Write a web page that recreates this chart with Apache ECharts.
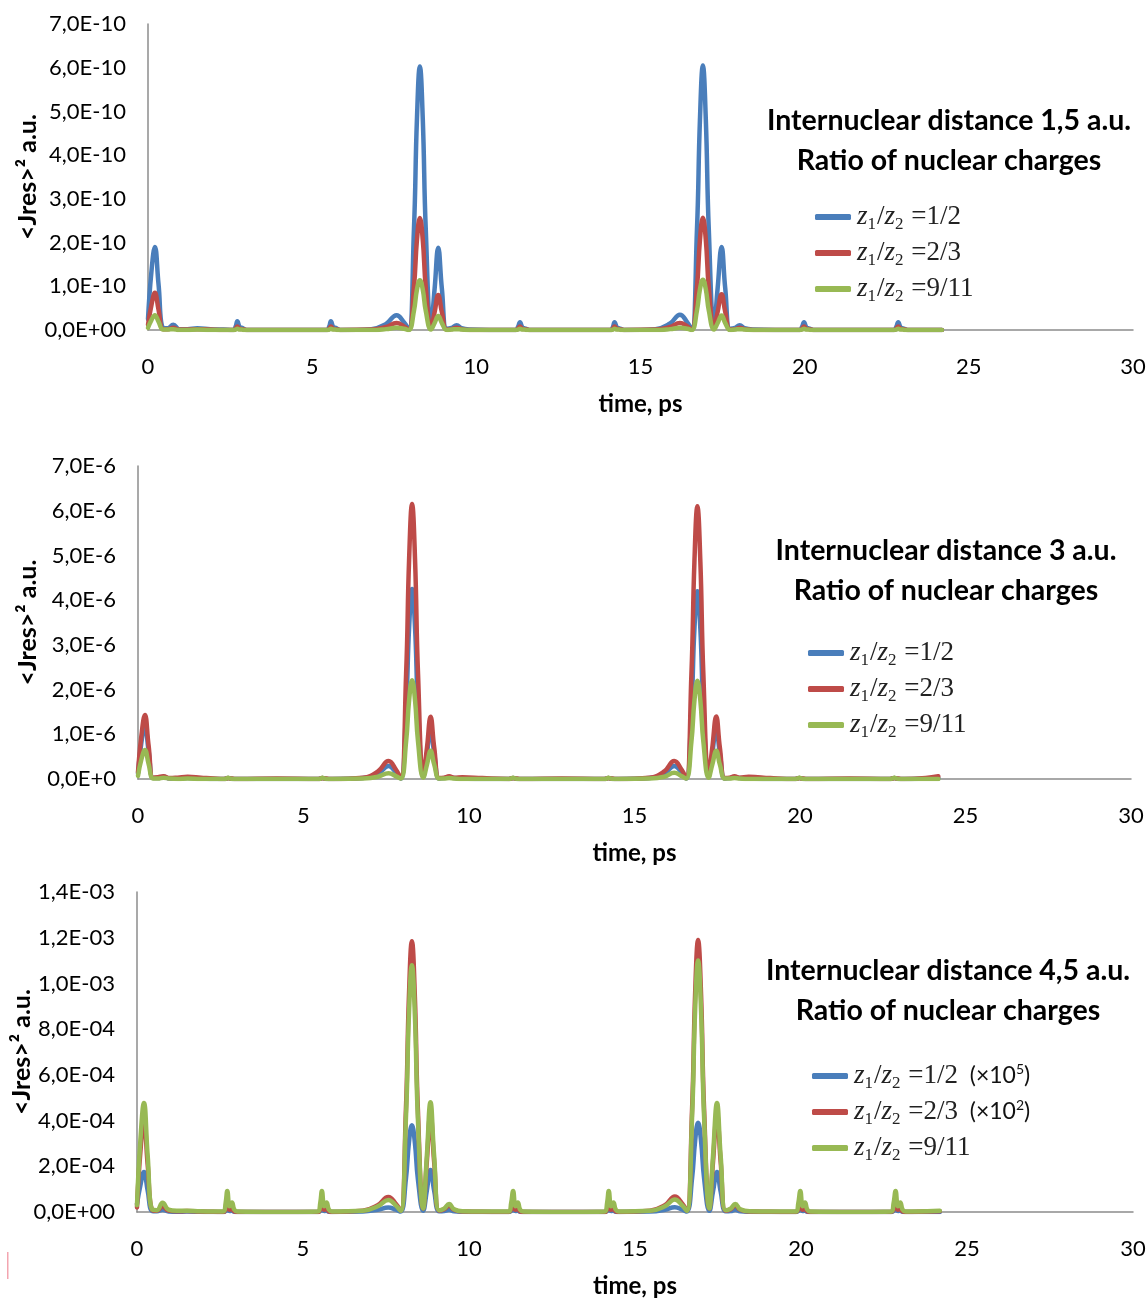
<!DOCTYPE html>
<html>
<head>
<meta charset="utf-8">
<title>Resonance current vs time</title>
<script src="https://cdn.jsdelivr.net/npm/echarts/dist/echarts.min.js"></script>
<style>
  html, body { margin: 0; padding: 0; background: #ffffff; }
  #chart { width: 1148px; height: 1301px; }
</style>
</head>
<body>
<div id="chart"></div>
<script>
// Time grid shared by all curves, ps
const time = [
  0, 0.1, 0.21, 0.32, 0.46, 0.6, 0.77, 0.95, 1.2, 1.5, 1.9, 2.3,
  2.6, 2.67, 2.72, 2.79, 2.86, 2.93, 3.02,
  4.2,
  5.45, 5.52, 5.57, 5.64, 5.71, 5.78, 5.87,
  6.8, 7.25, 7.57, 7.8, 7.94,
  8.1, 8.19, 8.28, 8.37, 8.46, 8.62,
  8.73, 8.84, 8.95, 9.1,
  9.25, 9.4, 9.55, 9.8, 10.4,
  11.2, 11.27, 11.33, 11.4, 11.47, 11.54, 11.63,
  12.8,
  14.09, 14.16, 14.21, 14.28, 14.35, 14.42, 14.51,
  15.45, 15.9, 16.2, 16.43, 16.56,
  16.72, 16.81, 16.9, 16.99, 17.08, 17.24,
  17.35, 17.47, 17.58, 17.73,
  17.88, 18.02, 18.17, 18.45, 19.1,
  19.85, 19.92, 19.98, 20.05, 20.12, 20.19, 20.28,
  21.5,
  22.72, 22.79, 22.85, 22.92, 22.99, 23.06, 23.15,
  23.8, 24.18
];

// Distance 1,5 a.u., values in units of 1E-10
const d15_half = [
  0.25, 1.3, 1.9, 1.05, 0.05, 0.04, 0.12, 0.02, 0.02, 0.04, 0.02, 0.01,
  0, 0.08, 0.2, 0.07, 0.05, 0.02, 0,
  0,
  0, 0.08, 0.2, 0.07, 0.05, 0.02, 0,
  0.02, 0.14, 0.34, 0.17, 0.02,
  2.3, 4.8, 6.03, 4.8, 2.3, 0.08,
  0.95, 1.88, 0.95, 0.03,
  0.05, 0.11, 0.04, 0.01, 0,
  0, 0.07, 0.18, 0.06, 0.04, 0.02, 0,
  0,
  0, 0.07, 0.18, 0.06, 0.04, 0.02, 0,
  0.02, 0.15, 0.35, 0.17, 0.02,
  2.3, 4.8, 6.05, 4.8, 2.3, 0.08,
  0.96, 1.9, 0.96, 0.03,
  0.05, 0.11, 0.04, 0.01, 0,
  0, 0.07, 0.18, 0.06, 0.04, 0.02, 0,
  0,
  0, 0.07, 0.18, 0.06, 0.04, 0.02, 0,
  0, 0
];
const d15_twoThirds = [
  0.12, 0.55, 0.85, 0.47, 0.02, 0.02, 0.05, 0.01, 0.01, 0.02, 0.01, 0,
  0, 0.03, 0.08, 0.03, 0.02, 0.01, 0,
  0,
  0, 0.03, 0.08, 0.03, 0.02, 0.01, 0,
  0.01, 0.07, 0.16, 0.08, 0.01,
  0.98, 2.05, 2.56, 2.05, 0.98, 0.03,
  0.41, 0.8, 0.41, 0.01,
  0.02, 0.05, 0.02, 0, 0,
  0, 0.03, 0.08, 0.03, 0.02, 0.01, 0,
  0,
  0, 0.03, 0.08, 0.03, 0.02, 0.01, 0,
  0.01, 0.07, 0.16, 0.08, 0.01,
  0.98, 2.06, 2.57, 2.06, 0.98, 0.03,
  0.42, 0.82, 0.42, 0.01,
  0.02, 0.05, 0.02, 0, 0,
  0, 0.03, 0.08, 0.03, 0.02, 0.01, 0,
  0,
  0, 0.03, 0.08, 0.03, 0.02, 0.01, 0,
  0, 0
];
const d15_nineElevenths = [
  0.05, 0.22, 0.34, 0.19, 0.01, 0.01, 0.02, 0, 0, 0.01, 0, 0,
  0, 0.01, 0.03, 0.01, 0.01, 0, 0,
  0,
  0, 0.01, 0.03, 0.01, 0.01, 0, 0,
  0, 0.02, 0.05, 0.03, 0,
  0.44, 0.92, 1.14, 0.92, 0.44, 0.01,
  0.16, 0.32, 0.16, 0,
  0.01, 0.02, 0.01, 0, 0,
  0, 0.01, 0.03, 0.01, 0.01, 0, 0,
  0,
  0, 0.01, 0.03, 0.01, 0.01, 0, 0,
  0, 0.02, 0.05, 0.03, 0,
  0.45, 0.93, 1.15, 0.93, 0.45, 0.01,
  0.16, 0.33, 0.16, 0,
  0.01, 0.02, 0.01, 0, 0,
  0, 0.01, 0.03, 0.01, 0.01, 0, 0,
  0,
  0, 0.01, 0.03, 0.01, 0.01, 0, 0,
  0, 0
];

// Distance 3 a.u., values in units of 1E-6
const d3_half = [
  0.12, 0.8, 1.2, 0.63, 0.02, 0.02, 0.05, 0.01, 0.01, 0.02, 0.01, 0,
  0, 0.01, 0.02, 0.01, 0, 0, 0,
  0,
  0, 0.01, 0.02, 0.01, 0, 0, 0,
  0.02, 0.12, 0.29, 0.14, 0.01,
  1.62, 3.38, 4.25, 3.38, 1.62, 0.05,
  0.57, 1.14, 0.57, 0.01,
  0.02, 0.04, 0.02, 0.01, 0,
  0, 0.01, 0.02, 0.01, 0, 0, 0,
  0,
  0, 0.01, 0.02, 0.01, 0, 0, 0,
  0.02, 0.12, 0.29, 0.14, 0.01,
  1.6, 3.35, 4.2, 3.35, 1.6, 0.05,
  0.57, 1.14, 0.57, 0.01,
  0.02, 0.04, 0.02, 0.01, 0,
  0, 0.01, 0.02, 0.01, 0, 0, 0,
  0,
  0, 0.01, 0.02, 0.01, 0, 0, 0,
  0.01, 0.02
];
const d3_twoThirds = [
  0.15, 0.95, 1.43, 0.75, 0.03, 0.04, 0.06, 0.02, 0.03, 0.05, 0.03, 0.01,
  0, 0.01, 0.02, 0.01, 0.01, 0, 0,
  0.01,
  0, 0.01, 0.02, 0.01, 0.01, 0, 0,
  0.03, 0.17, 0.4, 0.2, 0.02,
  2.35, 4.9, 6.15, 4.9, 2.35, 0.08,
  0.7, 1.39, 0.7, 0.02,
  0.03, 0.06, 0.03, 0.04, 0.02,
  0, 0.01, 0.02, 0.01, 0.01, 0, 0,
  0.01,
  0, 0.01, 0.02, 0.01, 0.01, 0, 0,
  0.03, 0.17, 0.4, 0.2, 0.02,
  2.35, 4.85, 6.1, 4.85, 2.35, 0.08,
  0.7, 1.4, 0.7, 0.02,
  0.03, 0.06, 0.03, 0.05, 0.02,
  0, 0.01, 0.02, 0.01, 0.01, 0, 0,
  0.01,
  0, 0.01, 0.02, 0.01, 0.01, 0, 0,
  0.02, 0.06
];
const d3_nineElevenths = [
  0.07, 0.43, 0.65, 0.34, 0.01, 0.01, 0.03, 0.01, 0, 0.01, 0, 0,
  0, 0.01, 0.03, 0.01, 0, 0, 0,
  0,
  0, 0.01, 0.03, 0.01, 0, 0, 0,
  0.01, 0.05, 0.13, 0.06, 0.01,
  0.84, 1.76, 2.21, 1.76, 0.84, 0.03,
  0.32, 0.63, 0.32, 0.01,
  0.01, 0.02, 0.01, 0, 0,
  0, 0.01, 0.03, 0.01, 0, 0, 0,
  0,
  0, 0.01, 0.03, 0.01, 0, 0, 0,
  0.01, 0.05, 0.14, 0.06, 0.01,
  0.84, 1.75, 2.2, 1.75, 0.84, 0.03,
  0.32, 0.63, 0.32, 0.01,
  0.01, 0.02, 0.01, 0, 0,
  0, 0.01, 0.03, 0.01, 0, 0, 0,
  0,
  0, 0.01, 0.03, 0.01, 0, 0, 0,
  0, 0
];

// Distance 4,5 a.u., values in units of 1E-4 (first two curves pre-scaled)
const d45_half = [
  0.35, 1.15, 1.75, 0.95, 0.04, 0.03, 0.1, 0.02, 0.01, 0.02, 0.01, 0,
  0, 0.05, 0.14, 0.04, 0.06, 0.01, 0,
  0,
  0, 0.05, 0.14, 0.04, 0.06, 0.01, 0,
  0.02, 0.1, 0.2, 0.1, 0.02,
  1.45, 3.03, 3.8, 3.03, 1.45, 0.05,
  0.94, 1.84, 0.94, 0.03,
  0.04, 0.1, 0.03, 0.01, 0,
  0, 0.05, 0.14, 0.04, 0.06, 0.01, 0,
  0,
  0, 0.05, 0.14, 0.04, 0.06, 0.01, 0,
  0.02, 0.1, 0.21, 0.1, 0.02,
  1.49, 3.1, 3.9, 3.1, 1.49, 0.05,
  0.9, 1.75, 0.9, 0.03,
  0.04, 0.1, 0.03, 0.01, 0,
  0, 0.05, 0.14, 0.04, 0.06, 0.01, 0,
  0,
  0, 0.05, 0.14, 0.04, 0.06, 0.01, 0,
  0, 0
];
const d45_twoThirds = [
  0.2, 2.6, 4.0, 2.1, 0.08, 0.05, 0.25, 0.06, 0.03, 0.04, 0.02, 0.01,
  0, 0.12, 0.3, 0.1, 0.14, 0.03, 0,
  0,
  0, 0.12, 0.3, 0.1, 0.14, 0.03, 0,
  0.06, 0.3, 0.66, 0.35, 0.06,
  4.5, 9.4, 11.85, 9.4, 4.5, 0.15,
  2.2, 4.3, 2.2, 0.06,
  0.12, 0.28, 0.1, 0.02, 0.01,
  0, 0.12, 0.3, 0.1, 0.14, 0.03, 0,
  0,
  0, 0.12, 0.3, 0.1, 0.14, 0.03, 0,
  0.06, 0.3, 0.68, 0.35, 0.06,
  4.55, 9.5, 11.9, 9.5, 4.55, 0.15,
  2.2, 4.3, 2.2, 0.06,
  0.12, 0.28, 0.1, 0.02, 0.01,
  0, 0.12, 0.3, 0.1, 0.14, 0.03, 0,
  0,
  0, 0.12, 0.3, 0.1, 0.14, 0.03, 0,
  0.02, 0.03
];
const d45_nineElevenths = [
  0.3, 3.1, 4.77, 2.5, 0.1, 0.08, 0.4, 0.1, 0.05, 0.06, 0.03, 0.02,
  0.02, 0.4, 0.92, 0.25, 0.42, 0.1, 0.02,
  0,
  0.02, 0.4, 0.92, 0.25, 0.42, 0.1, 0.02,
  0.05, 0.25, 0.53, 0.28, 0.05,
  4.1, 8.6, 10.8, 8.6, 4.1, 0.15,
  2.45, 4.8, 2.45, 0.08,
  0.15, 0.35, 0.12, 0.03, 0.02,
  0.02, 0.4, 0.92, 0.25, 0.42, 0.1, 0.02,
  0,
  0.02, 0.4, 0.92, 0.25, 0.42, 0.1, 0.02,
  0.05, 0.25, 0.55, 0.28, 0.05,
  4.2, 8.8, 11.0, 8.8, 4.2, 0.15,
  2.45, 4.77, 2.45, 0.08,
  0.15, 0.35, 0.12, 0.03, 0.02,
  0.02, 0.4, 0.92, 0.25, 0.42, 0.1, 0.02,
  0,
  0.02, 0.4, 0.92, 0.25, 0.42, 0.1, 0.02,
  0.03, 0.05
];

// Axis tick labels
const xTicks = [0, 5, 10, 15, 20, 25, 30];
const yTicks15 = ['0,0E+00', '1,0E-10', '2,0E-10', '3,0E-10', '4,0E-10', '5,0E-10', '6,0E-10', '7,0E-10'];
const yTicks3 = ['0,0E+0', '1,0E-6', '2,0E-6', '3,0E-6', '4,0E-6', '5,0E-6', '6,0E-6', '7,0E-6'];
const yTicks45 = ['0,0E+00', '2,0E-04', '4,0E-04', '6,0E-04', '8,0E-04', '1,0E-03', '1,2E-03', '1,4E-03'];

// Panel headings and legend entries
const panelTitles = [
  ['Internuclear distance 1,5 a.u.', 'Ratio of nuclear charges'],
  ['Internuclear distance 3 a.u.', 'Ratio of nuclear charges'],
  ['Internuclear distance 4,5 a.u.', 'Ratio of nuclear charges']
];
const ratios = ['1/2', '2/3', '9/11'];
const scaleExp45 = ['5', '2', ''];

const colors = ['#4a7ebb', '#be4b48', '#98b954'];
const textFont = 'Lato';
const mathFont = 'Liberation Serif';

const panels = [
  { data: [d15_half, d15_twoThirds, d15_nineElevenths], ticks: yTicks15, max: 7, interval: 1,
    grid: { left: 148, top: 24, width: 985, height: 306 }, nameGap: 108, legend: { left: 810, top: 196 },
    titleX: 949, titleY: [121, 161], exps: ['', '', ''] },
  { data: [d3_half, d3_twoThirds, d3_nineElevenths], ticks: yTicks3, max: 7, interval: 1,
    grid: { left: 138, top: 466, width: 993, height: 313 }, nameGap: 98, legend: { left: 803, top: 632 },
    titleX: 946, titleY: [551, 591], exps: ['', '', ''] },
  { data: [d45_half, d45_twoThirds, d45_nineElevenths], ticks: yTicks45, max: 14, interval: 2,
    grid: { left: 137, top: 892, width: 996, height: 320 }, nameGap: 103, legend: { left: 807, top: 1055 },
    titleX: 948, titleY: [971, 1011], exps: scaleExp45 }
];

function seriesName(p, k) {
  return 'P' + p + '|' + ratios[k] + '|' + panels[p].exps[k];
}

function legendLabel(name) {
  const parts = name.split('|');
  let s = '{g|}{i|z}{sb|1}{n|/}{i|z}{sb|2}{n| =' + parts[1] + '}';
  if (parts[2]) s += '{s|  (×10}{sp|' + parts[2] + '}{s|)}';
  return s;
}

const richStyles = {
  g: { width: 1 },
  i: { fontFamily: mathFont, fontStyle: 'italic', fontSize: 27, lineHeight: 30, color: '#222' },
  n: { fontFamily: mathFont, fontSize: 27, lineHeight: 30, color: '#222' },
  sb: { fontFamily: mathFont, fontSize: 17, lineHeight: 17, padding: [15, 1, 0, 0], color: '#222' },
  s: { fontFamily: textFont, fontSize: 23, lineHeight: 30, color: '#111' },
  sp: { fontFamily: textFont, fontSize: 14, lineHeight: 14, padding: [0, 0, 13, 0], color: '#111' }
};

const axisGray = '#8c8c8c';
const grids = [], xAxes = [], yAxes = [], series = [], legends = [], graphics = [];

panels.forEach((p, pi) => {
  grids.push(Object.assign({ containLabel: false, outerBoundsMode: 'none' }, p.grid));
  xAxes.push({
    type: 'value', gridIndex: pi, min: 0, max: 30, interval: 5,
    name: 'time, ps', nameLocation: 'middle', nameGap: 62, nameMoveOverlap: false,
    nameTextStyle: { fontFamily: textFont, fontWeight: 'bold', fontSize: 24, color: '#000' },
    axisLine: { show: true, lineStyle: { color: axisGray, width: 1.5 } },
    axisTick: { show: false },
    splitLine: { show: false },
    axisLabel: {
      fontFamily: textFont, fontSize: 22, color: '#000', margin: 26,
      formatter: v => String(xTicks[Math.round(v / 5)])
    }
  });
  yAxes.push({
    type: 'value', gridIndex: pi, min: 0, max: p.max, interval: p.interval,
    name: '<Jres>² a.u.', nameLocation: 'middle', nameRotate: 90, nameGap: p.nameGap,
    nameMoveOverlap: false,
    nameTextStyle: { fontFamily: textFont, fontWeight: 'bold', fontSize: 25, color: '#000' },
    axisLine: { show: true, lineStyle: { color: axisGray, width: 1.5 } },
    axisTick: { show: false },
    splitLine: { show: false },
    axisLabel: {
      fontFamily: textFont, fontSize: 22, color: '#000', margin: 22,
      formatter: v => p.ticks[Math.round(v / p.interval)]
    }
  });
  const names = [];
  p.data.forEach((vals, k) => {
    const name = seriesName(pi, k);
    names.push(name);
    series.push({
      type: 'line', name: name, xAxisIndex: pi, yAxisIndex: pi,
      data: time.map((t, j) => [t, vals[j]]),
      smooth: 0.45, symbol: 'none', showSymbol: false,
      lineStyle: { color: colors[k], width: 4.5, cap: 'round', join: 'round' },
      itemStyle: { color: colors[k] },
      z: 2 + k
    });
  });
  legends.push({
    data: names, orient: 'vertical', left: p.legend.left, top: p.legend.top,
    icon: 'roundRect', itemWidth: 36, itemHeight: 6, itemGap: 4,
    selectedMode: false,
    formatter: legendLabel,
    textStyle: { rich: richStyles }
  });
  p.titleY.forEach((y, li) => {
    graphics.push({
      type: 'text', x: p.titleX, y: y,
      style: {
        text: panelTitles[pi][li], textAlign: 'center', textVerticalAlign: 'middle',
        fontFamily: textFont, fontWeight: 'bold', fontSize: 28.5, fill: '#000'
      }
    });
  });
});

// faint red stroke near the lower-left margin
graphics.push({ type: 'rect', shape: { x: 7, y: 1252, width: 1.5, height: 27 }, style: { fill: '#f3a5b0' } });

const chart = echarts.init(document.getElementById('chart'), null, { renderer: 'canvas' });
chart.setOption({
  animation: false,
  backgroundColor: '#ffffff',
  grid: grids,
  xAxis: xAxes,
  yAxis: yAxes,
  legend: legends,
  series: series,
  graphic: graphics
});
</script>
</body>
</html>
